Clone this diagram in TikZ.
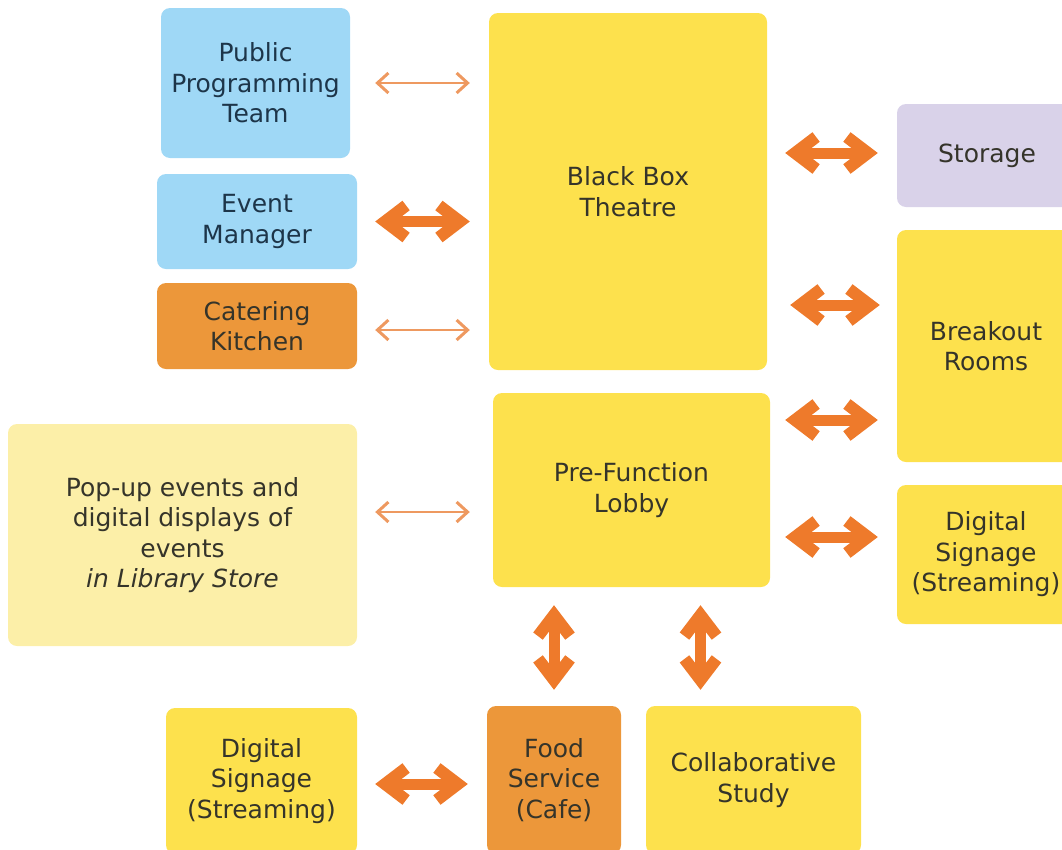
\documentclass[tikz,border=0pt]{standalone}
\usepackage{fontspec}
\setmainfont{DejaVu Sans}
\usetikzlibrary{arrows.meta}
\definecolor{cblue}{HTML}{9FD8F6}
\definecolor{corange}{HTML}{EC973A}
\definecolor{cyellow}{HTML}{FDE14D}
\definecolor{cpale}{HTML}{FCEFA8}
\definecolor{cpurple}{HTML}{D9D2E9}
\definecolor{athick}{HTML}{EE7A2B}
\definecolor{athin}{HTML}{EE9960}
\definecolor{txt}{HTML}{35342A}
\definecolor{txtblue}{HTML}{1D3549}
\tikzset{
  box/.style={rectangle, rounded corners=9pt, inner sep=0pt, align=center,
    font=\fontsize{25}{30.5}\selectfont, text=txt,
    execute at begin node={\mbox{}\\[-22pt]}},
  thick arrow/.style={draw=athick, line width=11pt,
    {Straight Barb[length=21pt,width=32pt,line width=12pt,sharp]}-{Straight Barb[length=21pt,width=32pt,line width=12pt,sharp]}},
  thin arrow/.style={draw=athin, line width=2.8pt,
    {Straight Barb[length=11pt,width=20pt,line width=3pt,sharp]}-{Straight Barb[length=11pt,width=20pt,line width=3pt,sharp]}},
}
\begin{document}
\begin{tikzpicture}[x=1pt,y=-1pt]
\useasboundingbox (0,0) rectangle (1062,849);
\clip (0,0) rectangle (1062,849);
% left column
\node[box, fill=cblue, text=txtblue, minimum width=189pt, minimum height=150pt] (ppt) at (255.5,83) {Public\\Programming\\Team};
\node[box, fill=cblue, text=txtblue, minimum width=200pt, minimum height=95pt] (em) at (257,221.5) {Event\\Manager};
\node[box, fill=corange, minimum width=200pt, minimum height=86pt] (ck) at (257,326) {Catering\\Kitchen};
\node[box, fill=cpale, minimum width=349pt, minimum height=222pt] (pop) at (182.5,535) {Pop-up events and\\digital displays of\\events\\\textit{in Library Store}};
% centre
\node[box, fill=cyellow, minimum width=278pt, minimum height=357pt] (bbt) at (628,191.5) {Black Box\\Theatre};
\node[box, fill=cyellow, minimum width=277pt, minimum height=194pt] (lobby) at (631.5,490) {Pre-Function\\Lobby};
% right column
\node[box, fill=cpurple, minimum width=180pt, minimum height=103pt] (storage) at (987,155.5) {Storage};
\node[box, fill=cyellow, minimum width=178pt, minimum height=232pt] (breakout) at (986,346) {Breakout\\Rooms};
\node[box, fill=cyellow, minimum width=178pt, minimum height=139pt] (dsr) at (986,554.5) {Digital\\Signage\\(Streaming)};
% bottom row
\node[box, fill=cyellow, minimum width=191pt, minimum height=146pt] (dsb) at (261.5,781) {Digital\\Signage\\(Streaming)};
\node[box, fill=corange, minimum width=134pt, minimum height=148pt] (food) at (554,780) {Food\\Service\\(Cafe)};
\node[box, fill=cyellow, minimum width=215pt, minimum height=148pt] (collab) at (753.5,780) {Collaborative\\Study};
% thin arrows
\draw[thin arrow, shorten <=25pt, shorten >=19pt] (ppt.east) -- (ppt.east -| bbt.west);
\draw[thin arrow, shorten <=18pt, shorten >=19pt] ([yshift=-4pt]ck.east) -- ([yshift=-4pt]ck.east -| bbt.west);
\draw[thin arrow, shorten <=18pt, shorten >=23pt] ([yshift=23pt]pop.east) -- ([yshift=23pt]pop.east -| lobby.west);
% thick arrows
\draw[thick arrow, shorten <=18pt, shorten >=19pt] (em.east) -- (em.east -| bbt.west);
\draw[thick arrow, shorten <=18pt, shorten >=19pt] ([yshift=2.5pt]storage.west -| bbt.east) -- ([yshift=2.5pt]storage.west);
\draw[thick arrow, shorten <=23pt, shorten >=17pt] ([yshift=41pt]breakout.west -| bbt.east) -- ([yshift=41pt]breakout.west);
\draw[thick arrow, shorten <=15pt, shorten >=19pt] ([yshift=70pt]lobby.east) -- ([yshift=70pt]lobby.east -| breakout.west);
\draw[thick arrow, shorten <=15pt, shorten >=19pt] ([yshift=-47pt]lobby.east) -- ([yshift=-47pt]lobby.east -| dsr.west);
\draw[thick arrow, shorten <=18pt, shorten >=16pt] (food.north |- lobby.south) -- (food.north);
\draw[thick arrow, shorten <=16pt, shorten >=18pt] ([xshift=-53pt]collab.north) -- ([xshift=-53pt]collab.north |- lobby.south);
\draw[thick arrow, shorten <=18pt, shorten >=19pt] ([yshift=-3pt]dsb.east) -- ([yshift=-3pt]dsb.east -| food.west);
\end{tikzpicture}
\end{document}
